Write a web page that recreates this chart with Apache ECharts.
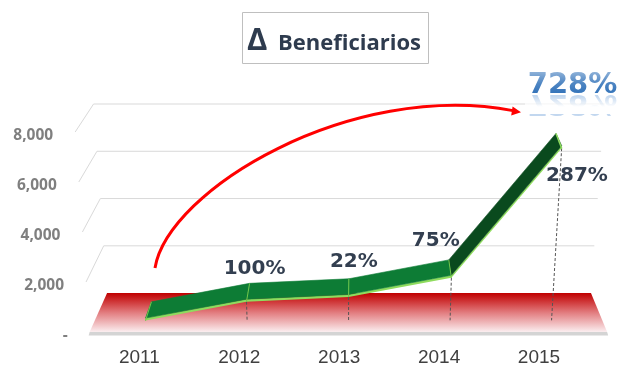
<!DOCTYPE html>
<html>
<head>
<meta charset="utf-8">
<script src="https://cdn.jsdelivr.net/npm/echarts@6/dist/echarts.min.js"></script>
<style>
  html, body { margin: 0; padding: 0; background: #ffffff; }
  #chart { width: 623px; height: 367px; }
</style>
</head>
<body>
<div id="chart"></div>
<script>
// Beneficiaries per year and the year-on-year change written above the line
const years = ['2011', '2012', '2013', '2014', '2015'];
const beneficiarios = [90, 860, 1050, 1835, 7100];
const growthLabels = ['', '100%', '22%', '75%', '287%'];
const totalGrowthLabel = '728%';
const yTicks = [0, 2000, 4000, 6000, 8000];
const yTickLabels = ['-', '2,000', '4,000', '6,000', '8,000'];

// Pseudo-3D view: a point on the front plane is widened a little with height
// and pushed towards the back by a depth d in [0, 1].
const VIEW = { cx: 348, spread: 0.00028, kx: 0.065, vx: 358, a: -20.8, b: -0.0545 };
const RIBBON = { front: 0.3, back: 0.72, thick: 2.5 };
// where each growth label sits relative to the back edge of the ribbon
const labelOffsets = [[0, 0], [5, -15], [5, -17], [-13, -19], [21, 42]];

function project(x, y, d, y0) {
  const x1 = VIEW.cx + (x - VIEW.cx) * (1 + VIEW.spread * (y0 - y));
  return [x1 + d * VIEW.kx * (VIEW.vx - x1), y + d * (VIEW.a + VIEW.b * y)];
}

// floor, back wall grid, side wall grid and value labels
function renderFrame(params, api) {
  const cs = params.coordSys;
  const L = cs.x, R = cs.x + cs.width;
  const y0 = api.coord([0, 0])[1];
  const children = [];
  yTicks.forEach(function (v, k) {
    const y = api.coord([0, v])[1];
    if (v > 0) {
      children.push({
        type: 'polyline',
        shape: { points: [project(L, y, 0, y0), project(L, y, 1, y0), project(R, y, 1, y0)] },
        style: { stroke: '#d9d9d9', lineWidth: 1, fill: null }
      });
    }
    const pl = project(L, y, 0, y0);
    children.push({
      type: 'text', x: pl[0] - 22, y: y + 4,
      style: {
        text: yTickLabels[k], align: 'right', verticalAlign: 'middle',
        fontFamily: 'Open Sans', fontWeight: 'bold', fontSize: 15.5, fill: '#7f7f7f'
      }
    });
  });
  const f0 = project(L, y0, 0, y0), f1 = project(R, y0, 0, y0);
  const f2 = project(R, y0, 1, y0), f3 = project(L, y0, 1, y0);
  children.push({
    type: 'polygon',
    shape: { points: [f0, f1, [f1[0] + 1, f1[1] + 3.5], [f0[0] - 1, f0[1] + 3.5]] },
    style: { fill: '#d4d4d4' }
  });
  children.push({
    type: 'polygon',
    shape: { points: [f0, f1, f2, f3] },
    style: {
      fill: new echarts.graphic.LinearGradient(0, 0, 0, 1, [
        { offset: 0, color: '#c00000' },
        { offset: 0.5, color: '#e27c7f' },
        { offset: 1, color: '#fbeef0' }
      ])
    }
  });
  return { type: 'group', children: children };
}

// one ribbon segment between two consecutive years
function renderRibbon(params, api) {
  const y0 = api.coord([0, 0])[1];
  const i = api.value(0);
  const a = api.coord([i, api.value(1)]);
  const b = api.coord([i + 1, api.value(2)]);
  const af = project(a[0], a[1], RIBBON.front, y0), bf = project(b[0], b[1], RIBBON.front, y0);
  const ab = project(a[0], a[1], RIBBON.back, y0), bb = project(b[0], b[1], RIBBON.back, y0);
  const steep = Math.abs((b[1] - a[1]) / (b[0] - a[0])) > 0.6;
  const t = RIBBON.thick;
  const face = steep ? '#0a4a1e' : '#0d7c35';
  const children = [
    { type: 'polygon', shape: { points: [af, bf, [bf[0], bf[1] + t], [af[0], af[1] + t]] },
      style: { fill: '#8fdc5e' } },
    { type: 'polygon', shape: { points: [af, bf, bb, ab] },
      style: { fill: face, stroke: face, lineWidth: 0.6, lineJoin: 'round' } },
    { type: 'line', shape: { x1: af[0], y1: af[1] + t, x2: ab[0], y2: ab[1] },
      style: { stroke: '#72c94c', lineWidth: 1 } }
  ];
  if (i === years.length - 2) {
    children.push({ type: 'line', shape: { x1: bf[0], y1: bf[1] + t, x2: bb[0], y2: bb[1] },
      style: { stroke: '#8fdc5e', lineWidth: 1.5 } });
  }
  return { type: 'group', children: children };
}

// dashed drop lines from the ribbon to the floor
function renderDrop(params, api) {
  const y0 = api.coord([0, 0])[1];
  const p = api.coord([api.value(0), api.value(1)]);
  const top = project(p[0], p[1], RIBBON.front, y0);
  const bot = project(p[0], y0, RIBBON.front, y0);
  return {
    type: 'line',
    shape: { x1: top[0], y1: top[1] + RIBBON.thick, x2: bot[0], y2: bot[1] },
    style: { stroke: '#555555', lineWidth: 1, lineDash: [3, 2] }
  };
}

function renderGrowth(params, api) {
  const k = params.dataIndex;
  if (!growthLabels[k]) return { type: 'group', children: [] };
  const y0 = api.coord([0, 0])[1];
  const p = api.coord([api.value(0), api.value(1)]);
  const q = project(p[0], p[1], RIBBON.back, y0);
  return {
    type: 'text', x: q[0] + labelOffsets[k][0], y: q[1] + labelOffsets[k][1],
    style: {
      text: growthLabels[k], align: 'center', verticalAlign: 'middle',
      fontFamily: 'DejaVu Sans', fontWeight: 'bold', fontSize: 20, fill: '#333f50'
    }
  };
}

const segments = beneficiarios.slice(0, -1).map(function (v, i) { return [i, v, beneficiarios[i + 1]]; });
const points = beneficiarios.map(function (v, i) { return [i, v]; });

const chart = echarts.init(document.getElementById('chart'), null, { renderer: 'canvas' });
chart.setOption({
  animation: false,
  backgroundColor: '#ffffff',
  grid: [
    { left: 89.65, right: 15.85, top: 132, bottom: 35 },
    { left: 89.45, right: 34.05, top: 132, bottom: 35 }
  ],
  xAxis: [
    { type: 'category', data: years, gridIndex: 0, show: false, boundaryGap: true },
    {
      type: 'category', data: years, gridIndex: 1, boundaryGap: true,
      axisLine: { show: false }, axisTick: { show: false }, splitLine: { show: false },
      axisLabel: { margin: 17, fontFamily: 'Liberation Sans', fontSize: 19, color: '#404040' }
    }
  ],
  yAxis: [
    { type: 'value', gridIndex: 0, min: 0, max: 8000, interval: 2000, show: false },
    { type: 'value', gridIndex: 1, min: 0, max: 8000, interval: 2000, show: false }
  ],
  series: [
    { type: 'custom', name: 'frame', z: 1, silent: true, renderItem: renderFrame, data: [[0, 0]] },
    { type: 'custom', name: 'drops', z: 2, silent: true, renderItem: renderDrop, data: points },
    { type: 'custom', name: 'Beneficiarios', z: 3, renderItem: renderRibbon, data: segments },
    { type: 'custom', name: 'growth', z: 4, silent: true, renderItem: renderGrowth, data: points }
  ],
  graphic: [
    { type: 'rect', z: 10, shape: { x: 242.5, y: 12.5, width: 186, height: 51 },
      style: { fill: '#ffffff', stroke: '#bfbfbf', lineWidth: 1 } },
    { type: 'text', z: 11, x: 247, y: 41,
      style: { text: 'Δ', align: 'left', verticalAlign: 'middle',
        font: 'bold 31px "Open Sans"', fill: '#2e3b4e' } },
    { type: 'text', z: 11, x: 278, y: 43.7,
      style: { text: 'Beneficiarios', align: 'left', verticalAlign: 'middle',
        font: 'bold 22px "Open Sans"', fill: '#2e3b4e' } },
    { type: 'bezierCurve', z: 10,
      shape: { x1: 155, y1: 268, cpx1: 168, cpy1: 190, cpx2: 350, cpy2: 80, x2: 513, y2: 110.6 },
      style: { stroke: '#ff0000', lineWidth: 3, fill: null } },
    { type: 'polygon', z: 10,
      shape: { points: [[521, 112.2], [511.2, 115.4], [512.6, 106.4]] },
      style: { fill: '#ff0000' } },
    // mirrored copy of the total, fading out downwards
    { type: 'text', z: 10, x: 572.5, y: 88, scaleY: -1,
      style: { text: totalGrowthLabel, align: 'center', verticalAlign: 'bottom',
        font: 'bold 29px "DejaVu Sans"', fill: 'rgba(80,140,210,0.35)' } },
    { type: 'rect', z: 10, shape: { x: 525, y: 96, width: 96, height: 18 },
      style: { fill: new echarts.graphic.LinearGradient(0, 0, 0, 1, [
        { offset: 0, color: 'rgba(255,255,255,0)' },
        { offset: 0.6, color: 'rgba(255,255,255,1)' },
        { offset: 1, color: 'rgba(255,255,255,1)' }
      ]) } },
    { type: 'text', z: 11, x: 572.5, y: 85,
      style: { text: totalGrowthLabel, align: 'center', verticalAlign: 'middle',
        font: 'bold 29px "DejaVu Sans"', fill: '#2f70b8' } },
    // light sheen over the upper half of the total
    { type: 'rect', z: 12, shape: { x: 524, y: 70, width: 98, height: 25 },
      style: { fill: new echarts.graphic.LinearGradient(0, 0, 0, 1, [
        { offset: 0, color: 'rgba(255,255,255,0.5)' },
        { offset: 0.55, color: 'rgba(255,255,255,0.15)' },
        { offset: 1, color: 'rgba(255,255,255,0)' }
      ]) } }
  ]
});
</script>
</body>
</html>
